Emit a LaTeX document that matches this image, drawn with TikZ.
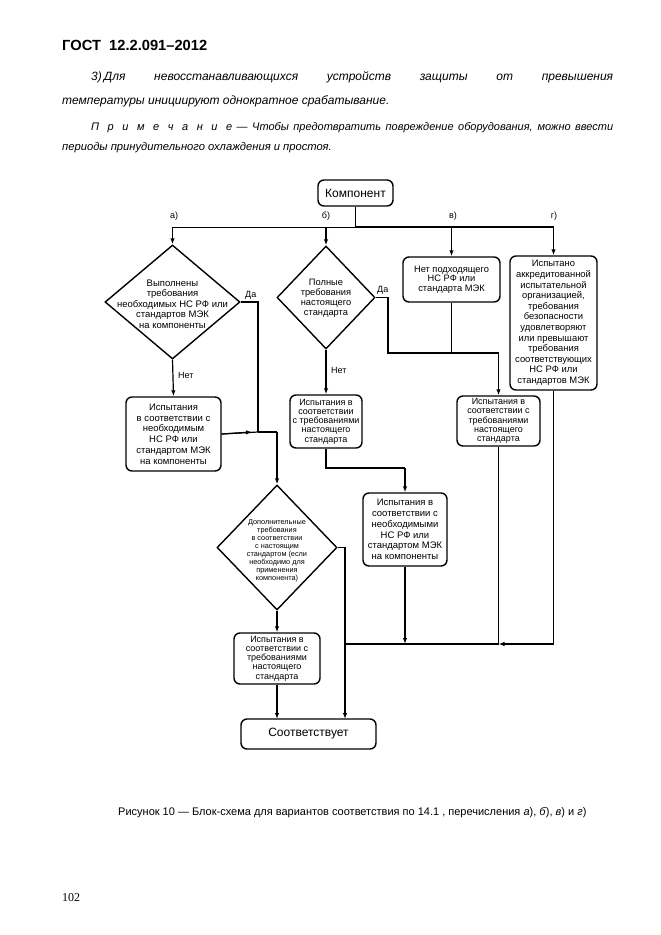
\documentclass[tikz,border=0pt]{standalone}
\usepackage{fontspec}
\setmainfont{Liberation Sans}
\newfontfamily\seriffont{Liberation Serif}
\usetikzlibrary{shapes.geometric,arrows.meta}
\tikzset{
  conn/.style={line width=1.2pt},
  arr/.style={conn,-{Latex[length=6pt,width=4.5pt]}},
  box/.style={draw,line width=1.4pt,rounded corners=6pt,align=center,inner sep=0pt,
    font=\fontsize{9}{9.3}\selectfont},
  bigbox/.style={box,font=\fontsize{12}{14}\selectfont},
  dia/.style={draw,diamond,line width=1.4pt,inner sep=0pt},
  dtext/.style={align=center,inner sep=0pt,font=\fontsize{9.5}{10.5}\selectfont},
  lbl/.style={inner sep=0pt,font=\fontsize{9}{10}\selectfont},
  txt/.style={inner sep=0pt,anchor=base west},
}
\begin{document}
\begin{tikzpicture}[x=1pt,y=-1pt]
\useasboundingbox (0,0) rectangle (661,935);
\fill[white] (0,0) rectangle (661,935);

% page text
\node[txt,font=\bfseries\fontsize{14.7}{16}\selectfont] (hdr) at (62,50) {ГОСТ\ \ 12.2.091–2012};
\node[txt,font=\itshape\fontsize{12}{14}\selectfont] (p1) at (91,80)
  {\makebox[522pt][s]{3)\,Для невосстанавливающихся устройств защиты от превышения}};
\node[txt,font=\itshape\fontsize{12}{14}\selectfont] (p2) at (62,104)
  {температуры инициируют однократное срабатывание.};
\node[txt,font=\itshape\fontsize{11}{12}\selectfont] (n1) at (91,130)
  {\makebox[522pt][s]{\makebox[141pt][s]{П\hfill р\hfill и\hfill м\hfill е\hfill ч\hfill а\hfill н\hfill и\hfill е} — Чтобы предотвратить повреждение оборудования, можно ввести}};
\node[txt,font=\itshape\fontsize{11.2}{12}\selectfont] (n2) at (62,150)
  {периоды принудительного охлаждения и простоя.};

% flowchart nodes
\node[bigbox,minimum width=75pt,minimum height=26pt] (komp) at (355.5,193) {Компонент};

\node[dia,minimum width=135pt,minimum height=114pt] (da) at (172.5,302) {};
\node[dtext] (dat) at (172.5,304) {Выполнены\\требования\\необходимых НС РФ или\\стандартов МЭК\\на компоненты};

\node[dia,minimum width=98pt,minimum height=103pt] (db) at (326,297.5) {};
\node[dtext,font=\fontsize{9.3}{10}\selectfont] (dbt) at (326,298) {Полные\\требования\\настоящего\\стандарта};

\node[box,minimum width=97pt,minimum height=45pt,font=\fontsize{9.3}{9.5}\selectfont] (bv) at (451.5,279.5) {Нет подходящего\\НС РФ или\\стандарта МЭК};

\node[box,minimum width=87pt,minimum height=134pt,font=\fontsize{9.4}{10.6}\selectfont] (bg) at (553.5,323)
  {Испытано\\аккредитованной\\испытательной\\организацией,\\требования\\безопасности\\удовлетворяют\\или превышают\\требования\\соответствующих\\НС РФ или\\стандартов МЭК};

\node[box,minimum width=95pt,minimum height=74pt,font=\fontsize{9.5}{10.8}\selectfont] (a2) at (173.5,434)
  {Испытания\\в соответствии с\\необходимым\\НС РФ или\\стандартом МЭК\\на компоненты};

\node[box,minimum width=72pt,minimum height=53pt] (b2) at (326,421.5)
  {Испытания в\\соответствии\\с требованиями\\настоящего\\стандарта};

\node[box,minimum width=83pt,minimum height=50pt] (b3) at (498.5,421)
  {Испытания в\\соответствии с\\требованиями\\настоящего\\стандарта};

\node[box,minimum width=84pt,minimum height=73pt,font=\fontsize{9.5}{10.8}\selectfont] (b4) at (405,529.5)
  {Испытания в\\соответствии с\\необходимыми\\НС РФ или\\стандартом МЭК\\на компоненты};

\node[dia,minimum width=120pt,minimum height=125pt] (dc) at (277,547.5) {};
\node[dtext,font=\fontsize{7.3}{8}\selectfont] (dct) at (277,551) {Дополнительные\\требования\\в соответствии\\с настоящим\\стандартом (если\\необходимо для\\применения\\компонента)};

\node[box,minimum width=86pt,minimum height=51pt] (c2) at (277,658.5)
  {Испытания в\\соответствии с\\требованиями\\настоящего\\стандарта};

\node[bigbox,minimum width=135pt,minimum height=30pt] (sootv) at (308.5,734) {Соответствует};

% branch labels
\node[lbl] (la) at (174,216) {а)};
\node[lbl] (lb) at (326,216) {б)};
\node[lbl] (lv) at (453,216) {в)};
\node[lbl] (lg) at (554,216) {г)};
\node[lbl,anchor=west] (yesa) at (245,295) {Да};
\node[lbl,anchor=west] (noa) at (178,375) {Нет};
\node[lbl,anchor=west] (yesb) at (377,290) {Да};
\node[lbl,anchor=west] (nob) at (331,370) {Нет};

% coordinates
\coordinate (ha) at (172.5,227);
\coordinate (hb) at (326,227);
\coordinate (hv) at (451.5,227);
\coordinate (hg) at (553.5,227);
\coordinate (hk) at (355.5,227);
\coordinate (ja) at (258,432);
\coordinate (jda) at (258,302);
\coordinate (jc) at (277,432);
\coordinate (jdb1) at (388,297.5);
\coordinate (jdb2) at (388,353);
\coordinate (jb3) at (498.5,353);
\coordinate (jbv) at (451.5,353);
\coordinate (jb2a) at (326,468);
\coordinate (jb2b) at (405,468);
\coordinate (jb4) at (405,644);
\coordinate (jb3b) at (498.5,644);
\coordinate (jg) at (553.5,644);
\coordinate (jl) at (345,644);
\coordinate (jdc) at (345,547.5);
\coordinate (jdcb) at (345,719);
\coordinate (js) at (277,719);

% connectors
\draw[conn] (komp.south) -- (hk);
\draw[line width=0.9pt] (ha) -- (hk);
\draw[line width=1.6pt] (hk) -- (hg);
\draw[arr] (ha) -- (da.north);
\draw[arr] (hb) -- (db.north);
\draw[arr] (hv) -- (bv.north);
\draw[arr] (hg) -- (bg.north);

\draw[conn] (da.east) -- (jda) -- (ja);
\draw[arr] (da.south) -- (a2.north);
\draw[conn] (a2.east) -- (ja);
\draw[arr] (a2.east) -- ([xshift=-6pt]ja);
\draw[conn] (ja) -- (jc);
\draw[arr] (jc) -- (dc.north);

\draw[conn] (db.east) -- (jdb1) -- (jdb2) -- (jb3);
\draw[arr] (jb3) -- (b3.north);
\draw[conn] (bv.south) -- (jbv);
\draw[arr] (db.south) -- (b2.north);
\draw[conn] (b2.south) -- (jb2a) -- (jb2b);
\draw[arr] (jb2b) -- (b4.north);
\draw[arr] (b4.south) -- (jb4);
\draw[conn] (b3.south) -- (jb3b);
\draw[conn] (bg.south) -- (jg);
\draw[arr] (jg) -- (jb3b);
\draw[conn] (jb3b) -- (jl);

\draw[conn] (dc.east) -- (jdc) -- (jl);
\draw[arr] (jl) -- (jdcb);
\draw[arr] (dc.south) -- (c2.north);
\draw[arr] (c2.south) -- (js);

% caption and page number
\node[txt,font=\fontsize{11}{12}\selectfont] (cap) at (118,815)
  {Рисунок 10 — Блок-схема для вариантов соответствия по 14.1 , перечисления \textit{а}), \textit{б}), \textit{в}) и \textit{г})};
\node[txt,font=\seriffont\fontsize{12}{14}\selectfont] (pg) at (62,901) {102};
\end{tikzpicture}
\end{document}
